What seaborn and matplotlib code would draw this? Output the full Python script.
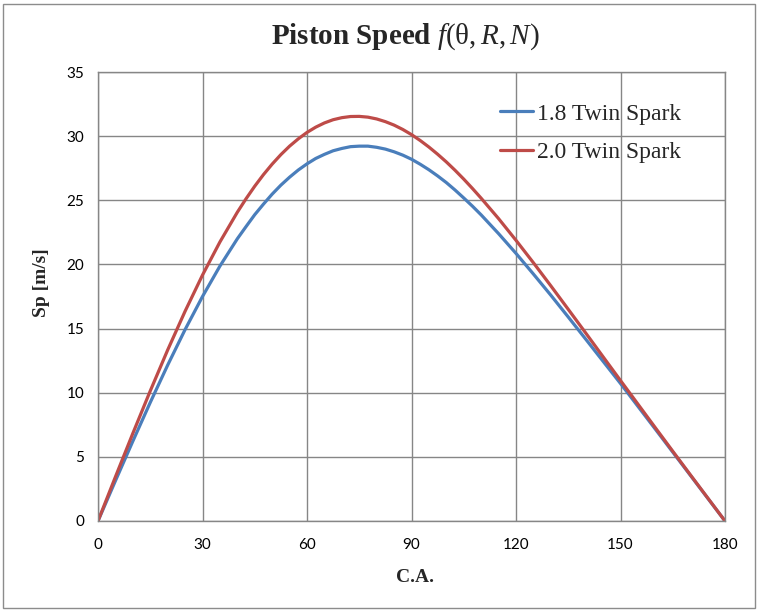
import pandas as pd
import seaborn as sns
import matplotlib.pyplot as plt
from matplotlib.patches import Rectangle

# crank angle [deg] and piston speed [m/s]
# (denser readings around the top of the curves)
crank_angle = [0, 5, 10, 15, 20, 25, 30, 35, 40, 42.5, 45, 47.5, 50, 52.5, 55, 57.5, 60, 62.5,
               65, 67.5, 70, 72.5, 75, 77.5, 80, 82.5, 85, 87.5, 90, 92.5, 95, 97.5, 100, 102.5,
               105, 107.5, 110, 115, 120, 125, 130, 135, 140, 145, 150, 155, 160, 165, 170, 175, 180]
sp_18 = [0, 3.13, 6.22, 9.24, 12.15, 14.92, 17.5, 19.87, 22.0, 22.95, 23.88, 24.7, 25.48, 26.18,
         26.8, 27.36, 27.84, 28.26, 28.58, 28.86, 29.04, 29.18, 29.22, 29.22, 29.13, 28.99, 28.78,
         28.52, 28.2, 27.81, 27.38, 26.9, 26.38, 25.8, 25.18, 24.54, 23.86, 22.4, 20.86, 19.25,
         17.6, 15.9, 14.18, 12.45, 10.72, 8.94, 7.16, 5.37, 3.58, 1.79, 0]
sp_20 = [0, 3.44, 6.83, 10.14, 13.33, 16.35, 19.17, 21.75, 24.07, 25.12, 26.1, 27.0, 27.82, 28.56,
         29.22, 29.79, 30.29, 30.7, 31.03, 31.28, 31.44, 31.53, 31.54, 31.48, 31.34, 31.13, 30.86,
         30.52, 30.12, 29.66, 29.15, 28.59, 27.99, 27.34, 26.65, 25.92, 25.16, 23.57, 21.88, 20.13,
         18.33, 16.5, 14.66, 12.8, 10.95, 9.11, 7.27, 5.44, 3.62, 1.81, 0]
engines = ['1.8 Twin Spark', '2.0 Twin Spark']
x_ticks = [0, 30, 60, 90, 120, 150, 180]
y_ticks = [0, 5, 10, 15, 20, 25, 30, 35]

df = pd.concat([
    pd.DataFrame({'C.A.': crank_angle, 'Sp': sp_18, 'engine': engines[0]}),
    pd.DataFrame({'C.A.': crank_angle, 'Sp': sp_20, 'engine': engines[1]}),
])

sns.set_style('white')
plt.rcParams['font.family'] = ['Liberation Serif', 'DejaVu Serif']
plt.rcParams['mathtext.fontset'] = 'custom'
plt.rcParams['mathtext.rm'] = 'Liberation Serif'
plt.rcParams['mathtext.it'] = 'Liberation Serif:italic'
plt.rcParams['mathtext.bf'] = 'Liberation Serif:bold'

fig = plt.figure(figsize=(7.59, 6.12), dpi=100)
ax = fig.add_axes([98 / 759, 1 - 521 / 612, 627 / 759, 449 / 612])

sns.lineplot(data=df, x='C.A.', y='Sp', hue='engine', palette=['#4A7EBB', '#BE4B48'],
             linewidth=2.3, ax=ax)

ax.set_xlim(0, 180)
ax.set_ylim(0, 35)
ax.set_xticks(x_ticks)
ax.set_yticks(y_ticks)
ax.grid(True, color='#868686', linewidth=1)
for s in ax.spines.values():
    s.set_color('#868686')
    s.set_linewidth(1)
ax.tick_params(length=0, labelsize=11, colors='black')
ax.tick_params(axis='x', pad=12)
ax.tick_params(axis='y', pad=10)
for lab in ax.get_xticklabels() + ax.get_yticklabels():
    lab.set_family('Lato')

ax.set_xlabel('C.A.', fontsize=14, fontweight='bold')
ax.set_ylabel('Sp [m/s]', fontsize=14, fontweight='bold')
ax.xaxis.set_label_coords(0.505, -0.108)
ax.yaxis.set_label_coords(-0.077, 0.53)

handles, labels = ax.get_legend_handles_labels()
ax.legend(handles, labels, loc='upper left', bbox_to_anchor=(500 / 759, 1 - 103 / 612),
          bbox_transform=fig.transFigure, frameon=False, fontsize=17,
          handlelength=1.4, handletextpad=0.17, labelspacing=0.72, borderpad=0,
          borderaxespad=0)

fig.text(405 / 759, 1 - 37 / 612,
         r'$\mathbf{Piston\ Speed}\ \mathit{f}(\mathrm{\theta},\mathit{R},\mathit{N})$',
         ha='center', va='center', fontsize=21)

fig.patches.append(Rectangle((3 / 759, 4 / 612), 752 / 759, 604 / 612, transform=fig.transFigure,
                             fill=False, edgecolor='#8c8c8c', linewidth=1))

fig.savefig('out.png', dpi=100)
